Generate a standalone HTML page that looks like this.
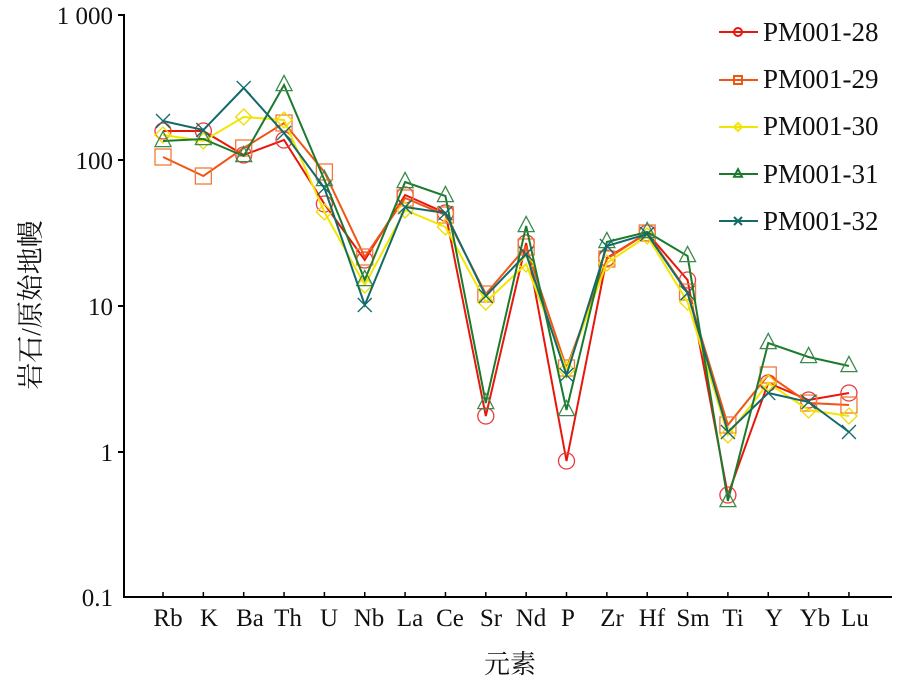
<!DOCTYPE html>
<html><head><meta charset="utf-8"><style>
html,body{margin:0;padding:0;background:#fff;}
svg text{font-family:"Liberation Serif","Noto Serif CJK SC",serif;fill:#111;}
</style></head><body>
<svg id="c" width="900" height="686" viewBox="0 0 900 686" xmlns="http://www.w3.org/2000/svg">
<g stroke="#000" stroke-width="2" fill="none">
<line x1="124" y1="14" x2="124" y2="598"/>
<line x1="123" y1="597" x2="892" y2="597"/>
<line x1="118" y1="15" x2="124" y2="15"/>
<line x1="118" y1="160" x2="124" y2="160"/>
<line x1="118" y1="306" x2="124" y2="306"/>
<line x1="118" y1="452" x2="124" y2="452"/>
</g>
<g font-size="25" text-anchor="end">
<text x="113" y="24">1 000</text>
<text x="113" y="169">100</text>
<text x="113" y="315">10</text>
<text x="113" y="461">1</text>
<text x="113" y="606">0.1</text>
</g>
<g id="ticks" stroke="#000" stroke-width="1.5"></g>
<g font-size="25" text-anchor="middle">
<text x="168" y="626">Rb</text><text x="209" y="626">K</text><text x="250" y="626">Ba</text><text x="288" y="626">Th</text><text x="329" y="626">U</text><text x="369" y="626">Nb</text><text x="410" y="626">La</text><text x="450" y="626">Ce</text><text x="491" y="626">Sr</text><text x="531" y="626">Nd</text><text x="568" y="626">P</text><text x="612" y="626">Zr</text><text x="652" y="626">Hf</text><text x="693" y="626">Sm</text><text x="733" y="626">Ti</text><text x="774" y="626">Y</text><text x="815" y="626">Yb</text><text x="855" y="626">Lu</text>
</g>
<text x="510" y="673" font-size="26" text-anchor="middle">元素</text>
<text transform="translate(40,305) rotate(-90)" font-size="27" text-anchor="middle">岩石/原始地幔</text>
<g id="series"></g>
<g font-size="27">
<text x="763" y="41">PM001-28</text>
<text x="763" y="88">PM001-29</text>
<text x="763" y="135">PM001-30</text>
<text x="763" y="183">PM001-31</text>
<text x="763" y="230">PM001-32</text>
</g>
</svg>
<script>
const NS="http://www.w3.org/2000/svg";
const xs=[];for(let i=0;i<18;i++)xs.push(163+40.35*i);
const tk=document.getElementById('ticks');
xs.forEach(x=>{const l=document.createElementNS(NS,'line');l.setAttribute('x1',x);l.setAttribute('x2',x);l.setAttribute('y1',592);l.setAttribute('y2',597);tk.appendChild(l);});
const S=[
{c:"#e8170c",m:"#e83a3a",t:"o",y:[131,131,155,140,204,260,195,213,416,243,461,258,233,280,495,383,400,393],ly:32},
{c:"#f05514",m:"#f07a3a",t:"s",y:[157,176,148,123,172,257,198,215,294,247,368,259,233,292,425,375,403,405],ly:80},
{c:"#f2e600",m:"#f0dc00",t:"d",y:[135,141,117,120,212,285,210,227,302,264,370,263,236,302,435,383,410,416],ly:127},
{c:"#1c7a2c",m:"#3a8a4a",t:"t",y:[141,139,156,85,180,280,182,196,403,226,410,242,232,256,501,343,357,366],ly:174},
{c:"#136a6a",m:"#136a6a",t:"x",y:[121,130,88,133,188,305,207,213,296,254,375,246,234,293,432,393,402,432],ly:221}];
const g=document.getElementById('series');
function el(n,a){const e=document.createElementNS(NS,n);for(const k in a)e.setAttribute(k,a[k]);g.appendChild(e);return e;}
function mk(t,x,y,col,r,w){
 const st={fill:"none",stroke:col,"stroke-width":w};
 if(t=="o")el('circle',Object.assign({cx:x,cy:y,r:r},st));
 else if(t=="s")el('rect',Object.assign({x:x-r,y:y-r,width:2*r,height:2*r},st));
 else if(t=="d")el('polygon',Object.assign({points:`${x},${y-r} ${x+r},${y} ${x},${y+r} ${x-r},${y}`},st));
 else if(t=="t")el('polygon',Object.assign({points:`${x},${y-r*1.2} ${x+r},${y+r*0.7} ${x-r},${y+r*0.7}`},st));
 else {el('line',Object.assign({x1:x-r,y1:y-r,x2:x+r,y2:y+r},st));el('line',Object.assign({x1:x-r,y1:y+r,x2:x+r,y2:y-r},st));}
}
S.forEach(s=>{
 el('polyline',{points:s.y.map((y,i)=>xs[i]+","+y).join(" "),fill:"none",stroke:s.c,"stroke-width":2});
 s.y.forEach((y,i)=>mk(s.t,xs[i],y,s.m,s.t=="d"?8:s.t=="x"?7:8,1.3));
 el('line',{x1:719,x2:758,y1:s.ly,y2:s.ly,stroke:s.c,"stroke-width":2});
 mk(s.t,738,s.ly,s.c,4,2);
});
</script>
</body></html>
